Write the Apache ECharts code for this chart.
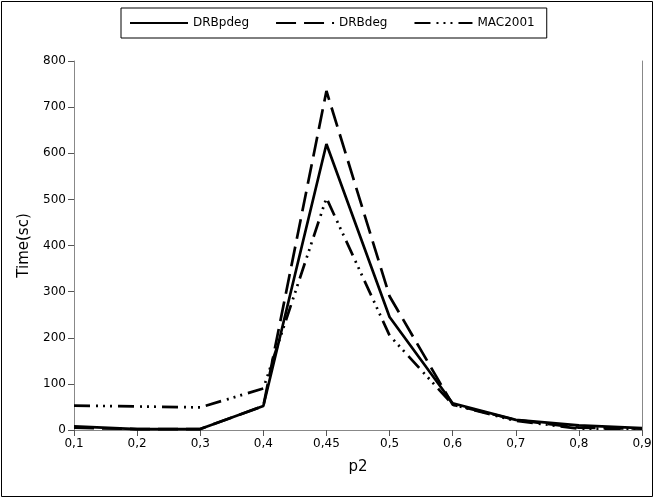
<!DOCTYPE html>
<html>
<head>
<meta charset="utf-8">
<script src="https://cdn.jsdelivr.net/npm/echarts@6/dist/echarts.min.js"></script>
<style>
html, body { margin: 0; padding: 0; background: #fff; }
#main { width: 655px; height: 499px; }
</style>
</head>
<body>
<div id="main"></div>
<script>
var categories = ['0,1', '0,2', '0,3', '0,4', '0,45', '0,5', '0,6', '0,7', '0,8', '0,9'];
var drbpdeg = [8, 2, 2, 52, 620, 245, 58, 22, 10, 4];
var drbdeg = [5, 2, 2, 52, 735, 290, 55, 22, 5, 3];
var mac2001 = [53, 51, 49, 90, 503, 205, 55, 20, 3, 3];

var myChart = echarts.init(document.getElementById('main'));
var font = 'DejaVu Sans';

function mkSeries(name, data, type) {
	return {
		name: name,
		type: 'line',
		data: data,
		symbol: 'none',
		lineStyle: { color: '#000', width: 2.7, type: type },
		itemStyle: { color: '#000' }
	};
}

var option = {
	animation: false,
	backgroundColor: '#fff',
	graphic: [{
		type: 'rect',
		shape: { x: 1.5, y: 1.5, width: 651, height: 495 },
		style: { fill: 'none', stroke: '#000', lineWidth: 1 }
	}],
	legend: {
		left: 121,
		top: 8,
		padding: [9, 12, 9, 8],
		borderColor: '#000',
		borderWidth: 1,
		itemWidth: 58,
		itemHeight: 10,
		itemGap: 26,
		itemStyle: { opacity: 0 },
		textStyle: { fontFamily: font, fontSize: 12, color: '#000' },
		data: ['DRBpdeg', 'DRBdeg', 'MAC2001']
	},
	grid: { left: 74, right: 13, top: 61, bottom: 69 },
	xAxis: {
		type: 'category',
		data: categories,
		boundaryGap: false,
		name: 'p2',
		nameLocation: 'middle',
		nameGap: 30,
		nameTextStyle: { fontFamily: font, fontSize: 15, color: '#000' },
		axisLine: { lineStyle: { color: '#888' } },
		axisTick: { show: true, length: 6, lineStyle: { color: '#555' } },
		axisLabel: { fontFamily: font, fontSize: 12, color: '#000', margin: 8 },
		splitLine: { show: false }
	},
	yAxis: [{
		type: 'value',
		min: 0,
		max: 800,
		interval: 100,
		name: 'Time(sc)',
		nameLocation: 'middle',
		nameGap: 42,
		nameTextStyle: { fontFamily: font, fontSize: 15, color: '#000' },
		axisLine: { show: true, lineStyle: { color: '#888' } },
		axisTick: { show: true, length: 6, lineStyle: { color: '#555' } },
		axisLabel: { fontFamily: font, fontSize: 12, color: '#000', margin: 8 },
		splitLine: { show: false }
	}, {
		type: 'value',
		position: 'right',
		min: 0,
		max: 800,
		interval: 100,
		axisLine: { show: true, lineStyle: { color: '#888' } },
		axisTick: { show: false },
		axisLabel: { show: false },
		splitLine: { show: false }
	}],
	series: [
		mkSeries('DRBpdeg', drbpdeg, 'solid'),
		mkSeries('DRBdeg', drbdeg, [20, 8]),
		mkSeries('MAC2001', mac2001, [16, 6, 2, 5, 2, 5, 2, 6])
	]
};
myChart.setOption(option);
</script>
</body>
</html>
